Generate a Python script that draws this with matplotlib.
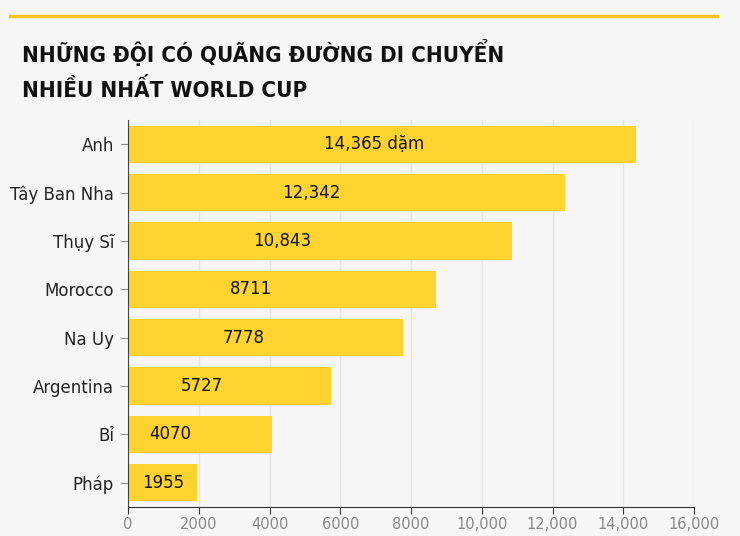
import matplotlib.pyplot as plt
from matplotlib.ticker import FuncFormatter

teams = ['Anh', 'Tây Ban Nha', 'Thụy Sĩ', 'Morocco', 'Na Uy', 'Argentina', 'Bỉ', 'Pháp']
miles = [14365, 12342, 10843, 8711, 7778, 5727, 4070, 1955]
labels = ['14,365 dặm', '12,342', '10,843', '8711', '7778', '5727', '4070', '1955']
# where each value label sits (data units), as in the original
label_x = [6950, 5170, 4350, 3480, 3280, 2090, 1190, 990]
title_lines = ['NHỮNG ĐỘI CÓ QUÃNG ĐƯỜNG DI CHUYỂN', 'NHIỀU NHẤT WORLD CUP']

bg = '#f6f6f6'
yellow = '#ffd32f'

fig = plt.figure(figsize=(7.4, 5.36), dpi=100, facecolor=bg)
ax = fig.add_axes([128 / 740, (536 - 507) / 536, (694 - 128) / 740, (507 - 120) / 536])
ax.set_facecolor(bg)

pos = list(range(len(teams)))
ax.barh(pos, miles, height=0.77, color=yellow, zorder=2)
for p, lx, t in zip(pos, label_x, labels):
    ax.text(lx, p, t, ha='center', va='center', fontsize=12, color='#111111', zorder=3)

ax.set_ylim(len(teams) - 0.5, -0.5)
ax.set_xlim(0, 16000)
ax.set_yticks(pos)
ax.set_yticklabels(teams, fontsize=12, color='#222222')
ax.set_xticks(range(0, 16001, 2000))
ax.xaxis.set_major_formatter(FuncFormatter(lambda v, _: f'{int(v):,}' if v >= 10000 else f'{int(v)}'))
ax.tick_params(axis='x', labelsize=10.5, labelcolor='#888888', color='#333333', length=5, pad=2)
ax.tick_params(axis='y', color='#888888', length=5, pad=5)
ax.grid(axis='x', color='#e6e6e6', linewidth=1, zorder=0)
for s in ['top', 'right']:
    ax.spines[s].set_visible(False)
ax.spines['left'].set_color('#444444')
ax.spines['bottom'].set_color('#333333')

# top rule and title
fig.add_artist(plt.Line2D([10 / 740, 717 / 740], [1 - 16 / 536, 1 - 16 / 536], color='#f5c518', linewidth=2.5))
for i, line in enumerate(title_lines):
    fig.text(22 / 740, 1 - (62 + 35 * i) / 536, line, ha='left', va='baseline',
             fontsize=16, fontweight='bold', family='DejaVu Sans', fontstretch='condensed',
             color='#111111')

fig.savefig('out.png', dpi=100, facecolor=bg)
